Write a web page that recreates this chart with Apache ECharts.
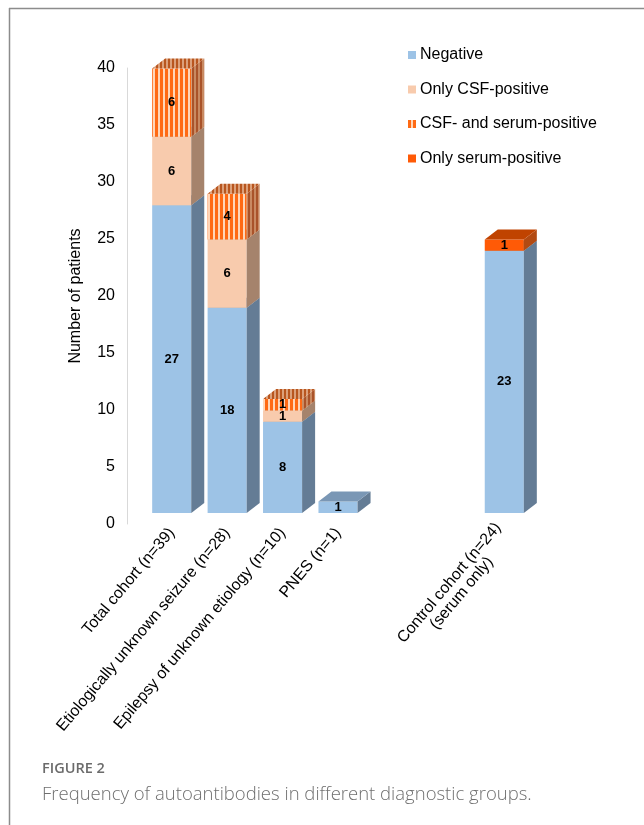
<!DOCTYPE html>
<html>
<head>
<meta charset="utf-8">
<script src="https://cdn.jsdelivr.net/npm/echarts@6/dist/echarts.min.js"></script>
<style>
    html, body { margin: 0; padding: 0; background: #fff; }
    #chart { width: 644px; height: 825px; }
</style>
</head>
<body>
<div id="chart"></div>
<script>
var categories = ['Total cohort (n=39)', 'Etiologically unknown seizure (n=28)', 'Epilepsy of unknown etiology (n=10)', 'PNES (n=1)', '', '', 'Control cohort (n=24)\n(serum only)'];
var seriesNames = ['Negative', 'Only CSF-positive', 'CSF- and serum-positive', 'Only serum-positive'];
var negative = [27, 18, 8, 1, 0, 0, 23];
var csfOnly = [6, 6, 1, 0, 0, 0, 0];
var csfAndSerum = [6, 4, 1, 0, 0, 0, 0];
var serumOnly = [0, 0, 0, 0, 0, 0, 1];
var yTicks = { min: 0, max: 40, interval: 5 };

var layers = [negative, csfOnly, csfAndSerum, serumOnly];

// 3d look
var DX = 13, DY = 10, LIFT = 11;
var FONT = '"Liberation Sans", Arial, sans-serif';

function stripes(c1, c2, w1, w2) {
    var cv = document.createElement('canvas');
    cv.width = w1 + w2;
    cv.height = 4;
    var ctx = cv.getContext('2d');
    ctx.fillStyle = c1;
    ctx.fillRect(0, 0, w1, 4);
    ctx.fillStyle = c2;
    ctx.fillRect(w1, 0, w2, 4);
    return { image: cv, repeat: 'repeat' };
}

var faceColors = [
    { front: '#9dc3e6', side: '#647c95', top: '#7a97b5' },
    { front: '#f8cbad', side: '#a5836c', top: '#c9a48a' },
    { front: stripes('#ff6a14', '#ffd6b8', 3, 2), side: stripes('#a9532a', '#c98a62', 2, 2), top: stripes('#b8561f', '#dca07a', 2, 2) },
    { front: '#ff5a06', side: '#b24a12', top: '#c04300' }
];

function stackBase(layer, cat) {
    var s = 0;
    for (var i = 0; i < layer; i++) {
        s += layers[i][cat];
    }
    return s;
}

function makeRender(layer) {
    var fc = faceColors[layer];
    return function (params, api) {
        var cat = api.value(0);
        var val = api.value(1);
        if (!val) {
            return;
        }
        var start = stackBase(layer, cat);
        var p0 = api.coord([cat, start]);
        var p1 = api.coord([cat, start + val]);
        var w = api.size([1, 0])[0] * 0.705;
        var x0 = p0[0] - w / 2, x1 = p0[0] + w / 2;
        var yb = p0[1] - LIFT, yt = p1[1] - LIFT;
        return {
            type: 'group',
            children: [
                { type: 'rect', shape: { x: x0, y: yt, width: w, height: yb - yt }, style: { fill: fc.front } },
                { type: 'polygon', shape: { points: [[x1, yb], [x1, yt], [x1 + DX, yt - DY], [x1 + DX, yb - DY]] }, style: { fill: fc.side } },
                { type: 'polygon', shape: { points: [[x0, yt], [x1, yt], [x1 + DX, yt - DY], [x0 + DX, yt - DY]] }, style: { fill: fc.top } },
                {
                    type: 'text', x: (x0 + x1) / 2, y: (yt + yb) / 2,
                    style: { text: String(val), align: 'center', verticalAlign: 'middle', font: 'bold 13px ' + FONT, fill: '#000' }
                }
            ]
        };
    };
}

var series = [];
for (var k = 0; k < layers.length; k++) {
    var data = [];
    for (var c = 0; c < categories.length; c++) {
        data.push([c, layers[k][c]]);
    }
    series.push({
        name: seriesNames[k],
        type: 'custom',
        renderItem: makeRender(k),
        itemStyle: { color: faceColors[k].front },
        encode: { x: 0, y: 1 },
        data: data
    });
}

var chartDom = document.getElementById('chart');
var chartInstance = echarts.init(chartDom, null, { renderer: 'canvas' });

var chartOption = {
    animation: false,
    textStyle: { fontFamily: FONT },
    grid: { left: 144, top: 68, width: 388, height: 456 },
    legend: {
        orient: 'vertical',
        left: 403,
        top: 42,
        itemWidth: 8,
        itemHeight: 8,
        itemGap: 18.5,
        icon: 'rect',
        textStyle: { fontSize: 16, color: '#000', padding: [0, 0, 0, -1] },
        data: seriesNames
    },
    xAxis: {
        type: 'category',
        data: categories,
        axisLine: { show: false },
        axisTick: { show: false },
        axisLabel: {
            interval: 0,
            rotate: 50,
            margin: 6,
            fontSize: 16,
            color: '#000',
            formatter: function (v) {
                if (v.indexOf('\n') < 0) return v;
                return v.split('\n').map(function (s) { return '{c|' + s + '}'; }).join('\n');
            },
            rich: { c: { align: 'center', fontSize: 16, color: '#000' } }
        }
    },
    yAxis: {
        type: 'value',
        min: yTicks.min,
        max: yTicks.max,
        interval: yTicks.interval,
        offset: 17,
        name: 'Number of patients',
        nameLocation: 'middle',
        nameGap: 43,
        nameTextStyle: { fontSize: 16, color: '#000' },
        axisLine: { show: true, lineStyle: { color: '#d9d9d9', width: 1 } },
        axisTick: { show: false },
        splitLine: { show: false },
        axisLabel: { fontSize: 16, color: '#000', margin: 12 }
    },
    graphic: [
        { type: 'line', shape: { x1: 9, y1: 8.5, x2: 644, y2: 8.5 }, style: { stroke: '#8c8c8c', lineWidth: 1.5 } },
        { type: 'line', shape: { x1: 9.5, y1: 8, x2: 9.5, y2: 825 }, style: { stroke: '#8c8c8c', lineWidth: 1.5 } },
        { type: 'text', left: 42, top: 761, style: { text: 'FIGURE 2', font: '600 14.5px "Open Sans", sans-serif', fill: '#6b6b6b' } },
        { type: 'text', left: 42, top: 785, style: { text: 'Frequency of autoantibodies in different diagnostic groups.', font: '300 18.5px "Open Sans", sans-serif', fill: '#6f6f6f' } }
    ],
    series: series
};

chartInstance.setOption(chartOption);
</script>
</body>
</html>
